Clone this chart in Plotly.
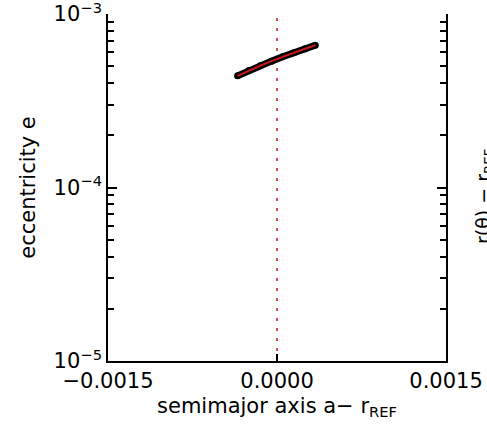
import plotly.graph_objects as go

# ---- data ----
a_minus_rref = [-0.00035, -0.00025, -0.00015, -0.00005, 0.00005, 0.00015, 0.00025, 0.00034]
eccentricity = [4.40e-4, 4.72e-4, 5.03e-4, 5.35e-4, 5.67e-4, 5.98e-4, 6.30e-4, 6.60e-4]

x_tickvals = [-0.0015, 0.0, 0.0015]
x_ticktext = ["\u22120.0015", "0.0000", "0.0015"]
y_major_vals = [1e-5, 1e-4, 1e-3]
y_major_text = ["10<sup>\u22125</sup>", "10<sup>\u22124</sup>", "10<sup>\u22123</sup>"]
y_minor_vals = [2e-5, 3e-5, 4e-5, 5e-5, 6e-5, 7e-5, 8e-5, 9e-5,
                2e-4, 3e-4, 4e-4, 5e-4, 6e-4, 7e-4, 8e-4, 9e-4]

FONT = "DejaVu Sans"
RED = "rgb(200,25,25)"

pairs = sorted(list(zip(y_major_vals, y_major_text)) + [(v, "") for v in y_minor_vals])
all_vals = [p[0] for p in pairs]
all_text = [p[1] for p in pairs]

fig = go.Figure()

fig.add_vline(x=0, line=dict(color=RED, width=1.5, dash="3px,7px"), layer="below")

fig.add_trace(go.Scatter(
    x=a_minus_rref, y=eccentricity, mode="lines+markers",
    line=dict(color="black", width=7),
    marker=dict(color="black", size=7),
    showlegend=False, hoverinfo="skip"))
fig.add_trace(go.Scatter(
    x=a_minus_rref, y=eccentricity, mode="lines",
    line=dict(color=RED, width=2),
    showlegend=False, hoverinfo="skip"))
# trace that carries the long decade-tick axis
fig.add_trace(go.Scatter(
    x=a_minus_rref, y=eccentricity, mode="markers", yaxis="y2",
    marker=dict(color="rgba(0,0,0,0)", size=1),
    showlegend=False, hoverinfo="skip"))

fig.update_layout(
    width=487, height=438,
    margin=dict(l=108, r=41, t=14, b=77, autoexpand=False),
    paper_bgcolor="white", plot_bgcolor="white",
    font=dict(family=FONT, size=21, color="black"),
    xaxis=dict(
        range=[-0.0015, 0.0015], tickmode="array",
        tickvals=x_tickvals, ticktext=x_ticktext,
        ticks="inside", ticklen=7, tickwidth=2, tickcolor="black",
        showline=True, linecolor="black", linewidth=1.6, mirror=False,
        showgrid=False, zeroline=False, automargin=False,
        title=dict(text="semimajor axis a\u2212 r<sub>REF</sub>", standoff=6,
                   font=dict(family=FONT, size=21)),
    ),
    yaxis=dict(
        type="log", range=[-5, -3], tickmode="array",
        tickvals=all_vals, ticktext=all_text,
        ticks="inside", ticklen=6, tickwidth=2, tickcolor="black",
        showline=True, linecolor="black", linewidth=1.6, mirror="ticks",
        showgrid=False, zeroline=False, automargin=False,
        ticklabeloverflow="allow",
        title=dict(text="eccentricity e", standoff=12,
                   font=dict(family=FONT, size=21)),
    ),
    yaxis2=dict(
        type="log", range=[-5, -3], overlaying="y", side="left", anchor="x",
        tickmode="array", tickvals=y_major_vals, showticklabels=False,
        ticks="inside", ticklen=9, tickwidth=2, tickcolor="black",
        showline=False, mirror="ticks",
        showgrid=False, zeroline=False, automargin=False,
    ),
)

# clipped y-title of the neighbouring panel at the right edge
fig.add_annotation(
    text="r(\u03b8) \u2212 r<sub>REF</sub>", textangle=-90,
    xref="paper", yref="paper", x=(484 - 108) / 338.0, y=1 - (196 - 14) / 347.0,
    xanchor="center", yanchor="middle", showarrow=False,
    font=dict(family=FONT, size=19, color="black"))

fig.write_html("out.html")
